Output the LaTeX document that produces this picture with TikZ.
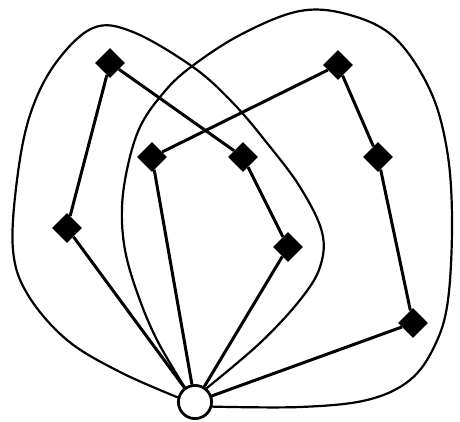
\documentclass[tikz,border=0pt]{standalone}
\usetikzlibrary{shapes.geometric}
\begin{document}
\begin{tikzpicture}[x=1pt,y=-1pt,
  vtx/.style={diamond, fill=black, minimum size=30pt, inner sep=0pt, shape border rotate=-8},
  root/.style={circle, draw=black, line width=2.6pt, fill=white, minimum size=33pt, inner sep=0pt},
  edge/.style={line width=3pt},
  loopcurve/.style={line width=2.2pt, line join=round}]
\useasboundingbox (0,0) rectangle (460,421);
\node[vtx] (A) at (110,63) {};
\node[vtx] (B) at (338,65) {};
\node[vtx] (C) at (152,157) {};
\node[vtx] (D) at (243,157) {};
\node[vtx] (E) at (378,157) {};
\node[vtx] (F) at (67,228) {};
\node[vtx] (G) at (288,247) {};
\node[vtx] (H) at (413,323) {};
\node[root] (O) at (195,402) {};
\draw[loopcurve] plot[smooth, tension=0.6] coordinates {
  (O.165) (120,372) (67,340) (28,295) (13,250) (17,180) (30,115) (55,64) (93,28)
  (133,32) (193,67) (233,103) (267,143) (300,187) (322,232) (320,267) (300,300)
  (260,343) (O.50)};
\draw[loopcurve] plot[smooth, tension=0.6] coordinates {
  (O.125) (157,340) (138,295) (125,250) (122,207) (128,165) (140,127) (160,97)
  (187,70) (240,35) (300,11) (350,15) (395,38) (430,90) (447,150) (452,220)
  (448,300) (435,345) (410,380) (367,400) (300,407) (O.345)};
\draw[edge] (A) -- (F) -- (O);
\draw[edge] (A) -- (D) -- (G) -- (O);
\draw[edge] (B) -- (C) -- (O);
\draw[edge] (B) -- (E) -- (H) -- (O);
\node[root] at (O) {};
\end{tikzpicture}
\end{document}
